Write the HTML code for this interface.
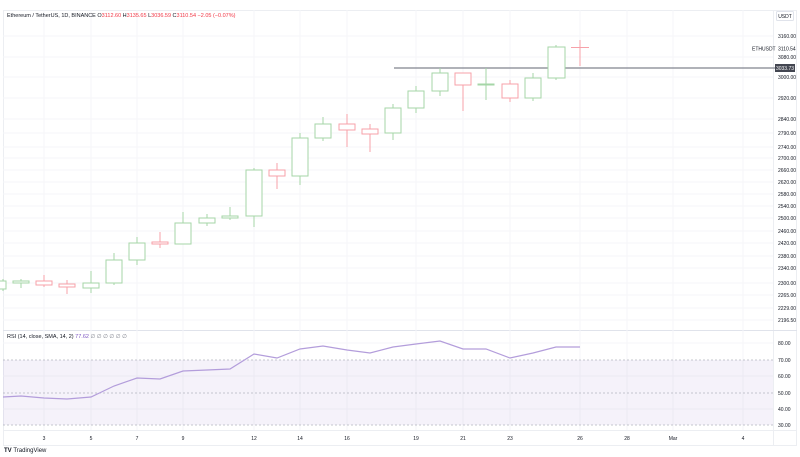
<!DOCTYPE html>
<html><head><meta charset="utf-8"><style>
html,body{margin:0;padding:0;background:#fff;width:800px;height:457px;overflow:hidden;font-family:"Liberation Sans",sans-serif;}
</style></head><body>
<svg width="800" height="457" xmlns="http://www.w3.org/2000/svg" font-family="Liberation Sans, sans-serif">
<rect width="800" height="457" fill="#fff"/>
<rect x="3.5" y="10.5" width="793" height="435" fill="none" stroke="#eceef2"/>
<line x1="773.5" y1="10" x2="773.5" y2="445" stroke="#eceef2"/>
<line x1="3" y1="330.5" x2="797" y2="330.5" stroke="#e0e3eb"/>
<line x1="3" y1="430.5" x2="797" y2="430.5" stroke="#eceef2"/>
<g stroke="#f5f6f8">
<line x1="44" y1="10" x2="44" y2="430"/><line x1="91" y1="10" x2="91" y2="430"/><line x1="137" y1="10" x2="137" y2="430"/><line x1="183" y1="10" x2="183" y2="430"/><line x1="254" y1="10" x2="254" y2="430"/><line x1="300" y1="10" x2="300" y2="430"/><line x1="347" y1="10" x2="347" y2="430"/><line x1="416" y1="10" x2="416" y2="430"/><line x1="463" y1="10" x2="463" y2="430"/><line x1="510" y1="10" x2="510" y2="430"/><line x1="580" y1="10" x2="580" y2="430"/><line x1="627" y1="10" x2="627" y2="430"/><line x1="673" y1="10" x2="673" y2="430"/><line x1="743" y1="10" x2="743" y2="430"/>
<line x1="3" y1="36" x2="773" y2="36"/><line x1="3" y1="57" x2="773" y2="57"/><line x1="3" y1="77" x2="773" y2="77"/><line x1="3" y1="98" x2="773" y2="98"/><line x1="3" y1="119" x2="773" y2="119"/><line x1="3" y1="133" x2="773" y2="133"/><line x1="3" y1="147" x2="773" y2="147"/><line x1="3" y1="158" x2="773" y2="158"/><line x1="3" y1="170" x2="773" y2="170"/><line x1="3" y1="182" x2="773" y2="182"/><line x1="3" y1="194" x2="773" y2="194"/><line x1="3" y1="206" x2="773" y2="206"/><line x1="3" y1="218" x2="773" y2="218"/><line x1="3" y1="231" x2="773" y2="231"/><line x1="3" y1="243" x2="773" y2="243"/><line x1="3" y1="256" x2="773" y2="256"/><line x1="3" y1="268" x2="773" y2="268"/><line x1="3" y1="283" x2="773" y2="283"/><line x1="3" y1="295" x2="773" y2="295"/><line x1="3" y1="308" x2="773" y2="308"/><line x1="3" y1="320" x2="773" y2="320"/>
<line x1="3" y1="343" x2="773" y2="343"/><line x1="3" y1="376" x2="773" y2="376"/><line x1="3" y1="409" x2="773" y2="409"/>
</g>
<text x="7" y="17" font-size="5.5" fill="#131722">Ethereum / TetherUS, 1D, BINANCE <tspan>O</tspan><tspan fill="#f23645">3112.60</tspan> H<tspan fill="#f23645">3135.65</tspan> L<tspan fill="#f23645">3036.59</tspan> C<tspan fill="#f23645">3110.54 −2.05 (−0.07%)</tspan></text>
<rect x="776.5" y="11.5" width="17" height="9" fill="#fff" stroke="#e0e3eb" rx="1"/>
<text x="785" y="18" font-size="5" fill="#131722" text-anchor="middle">USDT</text>
<g font-size="5" fill="#131722">
<text x="778" y="38">3160.00</text><text x="778" y="50.5">3110.54</text><text x="778" y="59">3080.00</text><text x="778" y="79">3000.00</text><text x="778" y="100">2920.00</text><text x="778" y="121">2840.00</text><text x="778" y="135">2790.00</text><text x="778" y="149">2740.00</text><text x="778" y="160">2700.00</text><text x="778" y="172">2660.00</text><text x="778" y="184">2620.00</text><text x="778" y="196">2580.00</text><text x="778" y="208">2540.00</text><text x="778" y="220">2500.00</text><text x="778" y="233">2460.00</text><text x="778" y="245">2420.00</text><text x="778" y="258">2380.00</text><text x="778" y="270">2340.00</text><text x="778" y="285">2300.00</text><text x="778" y="297">2265.00</text><text x="778" y="310">2229.00</text><text x="778" y="322">2196.50</text>
<text x="752" y="50.5">ETHUSDT</text>
<text x="778" y="345">80.00</text><text x="778" y="362">70.00</text><text x="778" y="378">60.00</text><text x="778" y="395">50.00</text><text x="778" y="411">40.00</text><text x="778" y="427">30.00</text>
</g>
<line x1="394" y1="68" x2="775" y2="68" stroke="#9598a1" stroke-width="1.5"/>
<rect x="775" y="64" width="20" height="8" fill="#434651"/>
<text x="785" y="70" font-size="5" fill="#fff" text-anchor="middle">3033.73</text>
<g stroke-width="1" fill="#fff">
<g stroke="#a5d6a7">
<line x1="3" y1="279" x2="3" y2="291"/><rect x="-5" y="281" width="11" height="8"/>
<line x1="21" y1="279" x2="21" y2="288"/><rect x="13" y="281" width="16" height="2"/>
<line x1="91" y1="271" x2="91" y2="293"/><rect x="83" y="283" width="16" height="5"/>
<line x1="114" y1="253" x2="114" y2="285"/><rect x="106" y="260" width="16" height="23"/>
<line x1="137" y1="237" x2="137" y2="265"/><rect x="129" y="243" width="16" height="17"/>
<line x1="183" y1="212" x2="183" y2="244"/><rect x="175" y="223" width="16" height="21"/>
<line x1="207" y1="214" x2="207" y2="226"/><rect x="199" y="218" width="16" height="5"/>
<line x1="230" y1="207" x2="230" y2="220"/><rect x="222" y="216" width="16" height="2"/>
<line x1="254" y1="168" x2="254" y2="227"/><rect x="246" y="170" width="16" height="46"/>
<line x1="300" y1="133" x2="300" y2="185"/><rect x="292" y="138" width="16" height="38"/>
<line x1="323" y1="117" x2="323" y2="141"/><rect x="315" y="124" width="16" height="14"/>
<line x1="393" y1="104" x2="393" y2="140"/><rect x="385" y="108" width="16" height="25"/>
<line x1="416" y1="86" x2="416" y2="113"/><rect x="408" y="91" width="16" height="17"/>
<line x1="440" y1="68" x2="440" y2="96"/><rect x="432" y="73" width="16" height="18"/>
<line x1="486" y1="68" x2="486" y2="100"/><rect x="478" y="84" width="16" height="1"/>
<line x1="533" y1="73" x2="533" y2="101"/><rect x="525" y="78" width="16" height="20"/>
<line x1="556" y1="45" x2="556" y2="80"/><rect x="548" y="47" width="17" height="31"/>
</g>
<g stroke="#f7a1a9">
<line x1="44" y1="275" x2="44" y2="287"/><rect x="36" y="281" width="16" height="4"/>
<line x1="67" y1="280" x2="67" y2="294"/><rect x="59" y="284" width="16" height="3"/>
<line x1="160" y1="232" x2="160" y2="248"/><rect x="152" y="242" width="16" height="2"/>
<line x1="277" y1="163" x2="277" y2="189"/><rect x="269" y="170" width="16" height="6"/>
<line x1="347" y1="114" x2="347" y2="147"/><rect x="339" y="124" width="16" height="6"/>
<line x1="370" y1="124" x2="370" y2="152"/><rect x="362" y="129" width="16" height="5"/>
<line x1="463" y1="73" x2="463" y2="111"/><rect x="455" y="73" width="16" height="12"/>
<line x1="510" y1="80" x2="510" y2="102"/><rect x="502" y="84" width="16" height="14"/>
<line x1="580" y1="40" x2="580" y2="66"/><line x1="571" y1="47.5" x2="589" y2="47.5"/>
</g>
</g>
<rect x="3" y="360" width="770" height="65" fill="#7e57c2" fill-opacity="0.08"/>
<g stroke="#b2b5be" stroke-dasharray="2,2" stroke-width="0.8">
<line x1="3" y1="360" x2="773" y2="360"/><line x1="3" y1="393" x2="773" y2="393"/><line x1="3" y1="425" x2="773" y2="425"/>
</g>
<polyline fill="none" stroke="#b39ddb" stroke-width="1.2" points="3,397 21,396 44,398 67,399 91,397 114,386 137,378 160,379 183,371 207,370 230,369 254,354 277,358 300,349 323,346 347,350 370,353 393,347 416,344 440,341 463,349 486,349 510,358 533,353 556,347 580,347"/>
<text x="7" y="338" font-size="5.5" fill="#131722">RSI (14, close, SMA, 14, 2) <tspan fill="#7e57c2">77.62</tspan> <tspan fill="#787b86">∅ ∅ ∅ ∅ ∅ ∅</tspan></text>
<g font-size="5" fill="#131722" text-anchor="middle">
<text x="44" y="440">3</text><text x="91" y="440">5</text><text x="137" y="440">7</text><text x="183" y="440">9</text><text x="254" y="440">12</text><text x="300" y="440">14</text><text x="347" y="440">16</text><text x="416" y="440">19</text><text x="463" y="440">21</text><text x="510" y="440">23</text><text x="580" y="440">26</text><text x="627" y="440">28</text><text x="673" y="440">Mar</text><text x="743" y="440">4</text>
</g>
<text x="4" y="452" font-size="6" fill="#131722" font-weight="bold">TV <tspan font-weight="normal">TradingView</tspan></text>
</svg>
</body></html>
